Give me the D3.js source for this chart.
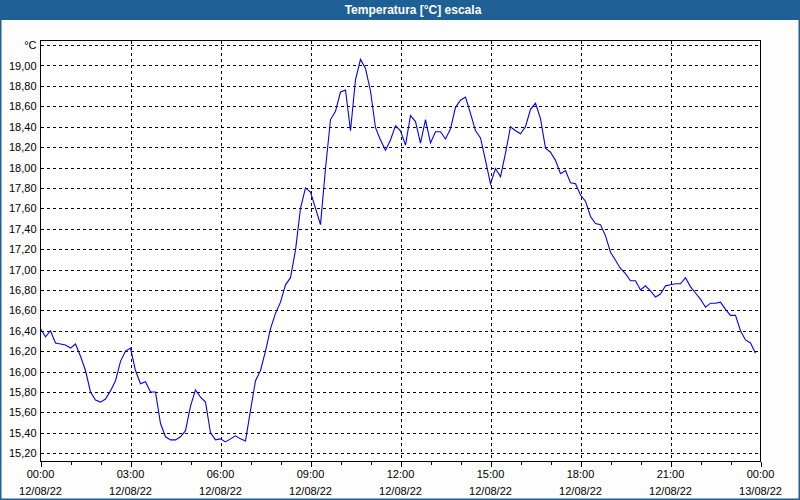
<!DOCTYPE html>
<html>
<head>
<meta charset="utf-8">
<script src="https://cdn.jsdelivr.net/npm/d3@7"></script>
<style>
  body { margin: 0; background: #fcfdfc; }
  svg { display: block; font-family: "Liberation Sans", Arial, sans-serif; }
</style>
</head>
<body>
<svg width="800" height="500"></svg>
<script>
// title and units
var title = 'Temperatura [°C] escala'
var unit = '°C'

// samples every 10 minutes, from 12/08/22 00:00
var startTime = new Date(2022, 7, 12, 0, 0)
var endTime = new Date(2022, 7, 13, 0, 0)
var stepMinutes = 10

var temps = [
  16.42, 16.34, 16.40, 16.28, 16.27, 16.26, 16.23, 16.27, 16.15, 16.01,
  15.80, 15.72, 15.70, 15.73, 15.81, 15.91, 16.10, 16.20, 16.23, 16.01,
  15.88, 15.90, 15.80, 15.80, 15.49, 15.36, 15.33, 15.33, 15.36, 15.42,
  15.66, 15.82, 15.75, 15.70, 15.40, 15.33, 15.34, 15.31, 15.34, 15.37,
  15.34, 15.32, 15.62, 15.91, 16.01, 16.20, 16.42, 16.57, 16.68, 16.85,
  16.92, 17.19, 17.60, 17.80, 17.76, 17.60, 17.44, 17.99, 18.47, 18.55,
  18.74, 18.76, 18.36, 18.86, 19.06, 18.97, 18.75, 18.39, 18.27, 18.17,
  18.27, 18.41, 18.36, 18.22, 18.51, 18.45, 18.24, 18.47, 18.24, 18.35,
  18.35, 18.28, 18.38, 18.59, 18.66, 18.69, 18.53, 18.36, 18.29, 18.07,
  17.84, 17.99, 17.91, 18.14, 18.40, 18.36, 18.33, 18.40, 18.57, 18.63,
  18.48, 18.19, 18.15, 18.07, 17.94, 17.97, 17.85, 17.84, 17.73, 17.67,
  17.52, 17.45, 17.44, 17.33, 17.17, 17.09, 17.01, 16.96, 16.89, 16.89,
  16.80, 16.84, 16.79, 16.73, 16.76, 16.84, 16.85, 16.86, 16.86, 16.92,
  16.83, 16.77, 16.71, 16.63, 16.67, 16.67, 16.68, 16.61, 16.55, 16.55,
  16.40, 16.31, 16.28, 16.18
]

// y ticks, the top one is labelled with the unit
var yTicks = [15.2, 15.4, 15.6, 15.8, 16.0, 16.2, 16.4, 16.6, 16.8, 17.0,
  17.2, 17.4, 17.6, 17.8, 18.0, 18.2, 18.4, 18.6, 18.8, 19.0, 19.2]

// x axis labels (time + date), every 3 hours
var xTickHours = [0, 3, 6, 9, 12, 15, 18, 21, 24]
var xTimeLabels = ['00:00', '03:00', '06:00', '09:00', '12:00', '15:00', '18:00', '21:00', '00:00']
var xDateLabels = ['12/08/22', '12/08/22', '12/08/22', '12/08/22', '12/08/22', '12/08/22', '12/08/22', '12/08/22', '13/08/22']

var svg = d3.select('svg')
var W = 800, H = 500
var plotL = 40.5, plotR = 760.5, plotT = 40.5, plotB = 461.5

var data = temps.map(function (v, i) {
  return { t: d3.timeMinute.offset(startTime, i * stepMinutes), v: v }
})

var x = d3.scaleTime().domain([startTime, endTime]).range([plotL, plotR])
var y = d3.scaleLinear().domain([15.118, 19.245]).range([plotB, plotT])

// page frame + title bar
svg.append('rect')
  .attr('x', 0.5).attr('y', 0.5).attr('width', W - 1).attr('height', H - 1)
  .style('fill', '#fcfdfc').style('stroke', '#1e5f96').style('stroke-width', 2)
svg.append('rect')
  .attr('x', 0).attr('y', 0).attr('width', W).attr('height', 20)
  .style('fill', '#1e5f96')
svg.append('text')
  .attr('x', 413).attr('y', 14)
  .attr('text-anchor', 'middle')
  .style('fill', '#fff').style('font-weight', 'bold').style('font-size', '12px')
  .text(title)

// plot background
svg.append('rect')
  .attr('x', plotL).attr('y', plotT).attr('width', plotR - plotL).attr('height', plotB - plotT)
  .style('fill', '#fff')

// horizontal grid
svg.append('g')
  .selectAll('line')
  .data(yTicks)
  .enter()
  .append('line')
  .attr('x1', plotL).attr('x2', plotR)
  .attr('y1', d => Math.round(y(d)) + 0.5)
  .attr('y2', d => Math.round(y(d)) + 0.5)
  .style('stroke', '#000').style('stroke-dasharray', '3,3')
  .style('shape-rendering', 'crispEdges')

// vertical grid, inner 3h marks only
svg.append('g')
  .selectAll('line')
  .data(xTickHours.slice(1, -1))
  .enter()
  .append('line')
  .attr('x1', d => Math.round(x(d3.timeHour.offset(startTime, d))) + 0.5)
  .attr('x2', d => Math.round(x(d3.timeHour.offset(startTime, d))) + 0.5)
  .attr('y1', plotT).attr('y2', plotB)
  .style('stroke', '#000').style('stroke-dasharray', '3,3')
  .style('shape-rendering', 'crispEdges')

// y labels
var yAxis = d3.axisLeft(y)
  .tickValues(yTicks)
  .tickSize(0)
  .tickPadding(4)
  .tickFormat(d => d === 19.2 ? unit : d3.format('.2f')(d).replace('.', ','))
var gy = svg.append('g').attr('transform', 'translate(' + plotL + ',0)').call(yAxis)
gy.select('.domain').remove()
gy.selectAll('text').style('font-size', '11px').style('fill', '#000')
  .style('font-family', '"Liberation Sans", Arial, sans-serif')

// x axis: hourly minor ticks, 3h major ticks
var gx = svg.append('g').attr('transform', 'translate(0,' + plotB + ')')
gx.call(d3.axisBottom(x).ticks(d3.timeHour.every(1)).tickSize(3).tickFormat(''))
gx.select('.domain').remove()
gx.selectAll('line').style('shape-rendering', 'crispEdges')

var gxMajor = svg.append('g').attr('transform', 'translate(0,' + plotB + ')')
gxMajor.call(d3.axisBottom(x)
  .tickValues(xTickHours.map(h => d3.timeHour.offset(startTime, h)))
  .tickSize(5).tickFormat(''))
gxMajor.select('.domain').remove()
gxMajor.selectAll('line').style('shape-rendering', 'crispEdges')

var labels = svg.append('g')
  .selectAll('g')
  .data(xTickHours)
  .enter()
  .append('g')
  .attr('transform', d => 'translate(' + x(d3.timeHour.offset(startTime, d)) + ',0)')
  .style('font-size', '11px')
labels.append('text')
  .attr('y', 478).attr('text-anchor', 'middle')
  .text((d, i) => xTimeLabels[i])
labels.append('text')
  .attr('y', 495).attr('text-anchor', 'middle')
  .text((d, i) => xDateLabels[i])

// data line
var line = d3.line()
  .x(d => x(d.t))
  .y(d => y(d.v))
svg.append('path')
  .datum(data)
  .attr('d', line)
  .style('fill', 'none')
  .style('stroke', '#0000ff')
  .style('stroke-width', 1.1)

// plot frame
svg.append('rect')
  .attr('x', plotL).attr('y', plotT).attr('width', plotR - plotL).attr('height', plotB - plotT)
  .style('fill', 'none').style('stroke', '#000')
  .style('shape-rendering', 'crispEdges')
</script>
</body>
</html>
